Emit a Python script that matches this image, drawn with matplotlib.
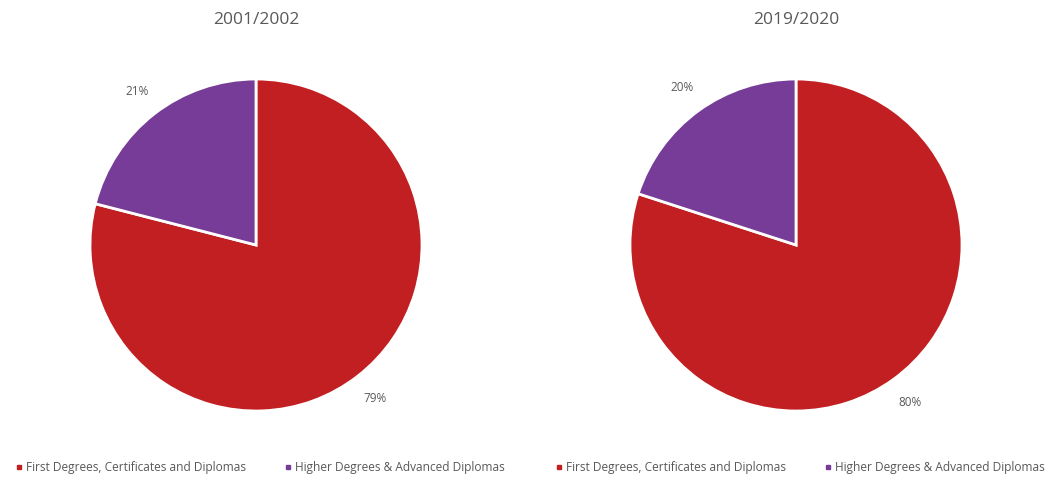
import matplotlib
matplotlib.use("Agg")
import matplotlib.pyplot as plt
from matplotlib.lines import Line2D

plt.rcParams['font.family'] = ['Open Sans', 'DejaVu Sans']

# data
categories = ['First Degrees, Certificates and Diplomas', 'Higher Degrees & Advanced Diplomas']
years = ['2001/2002', '2019/2020']
shares_2001 = [79, 21]
shares_2019 = [80, 20]
colors = ['#C11F22', '#763C97']
text_grey = '#595959'

fig = plt.figure(figsize=(10.49, 4.79), dpi=100)

W, H = 1049, 479
r = 166
centers = [(256, 245), (796, 245)]
legend_centers = [(260, 468), (800, 468)]

for (cx, cy), title, vals, (lx, ly) in zip(centers, years, [shares_2001, shares_2019], legend_centers):
    ax = fig.add_axes([(cx - r) / W, 1 - (cy + r) / H, 2 * r / W, 2 * r / H])
    ax.pie(vals, colors=colors, startangle=90, counterclock=False,
           autopct='%d%%', pctdistance=1.17,
           wedgeprops=dict(edgecolor='white', linewidth=2),
           textprops=dict(color=text_grey, fontsize=8.5))
    ax.set_xlim(-1, 1)
    ax.set_ylim(-1, 1)
    ax.set_aspect('equal')
    ax.axis('off')
    fig.text(cx / W, 1 - 20 / H, title, ha='center', va='center', fontsize=12.5, color=text_grey)

    handles = [Line2D([], [], marker='s', linestyle='none', color=c, markersize=3.2) for c in colors]
    fig.legend(handles, categories, loc='center', bbox_to_anchor=(lx / W, 1 - ly / H),
               ncol=2, frameon=False, fontsize=8.6, labelcolor=text_grey,
               handletextpad=0.3, columnspacing=3.2, handlelength=0.6)

fig.savefig('out.png', dpi=100)
